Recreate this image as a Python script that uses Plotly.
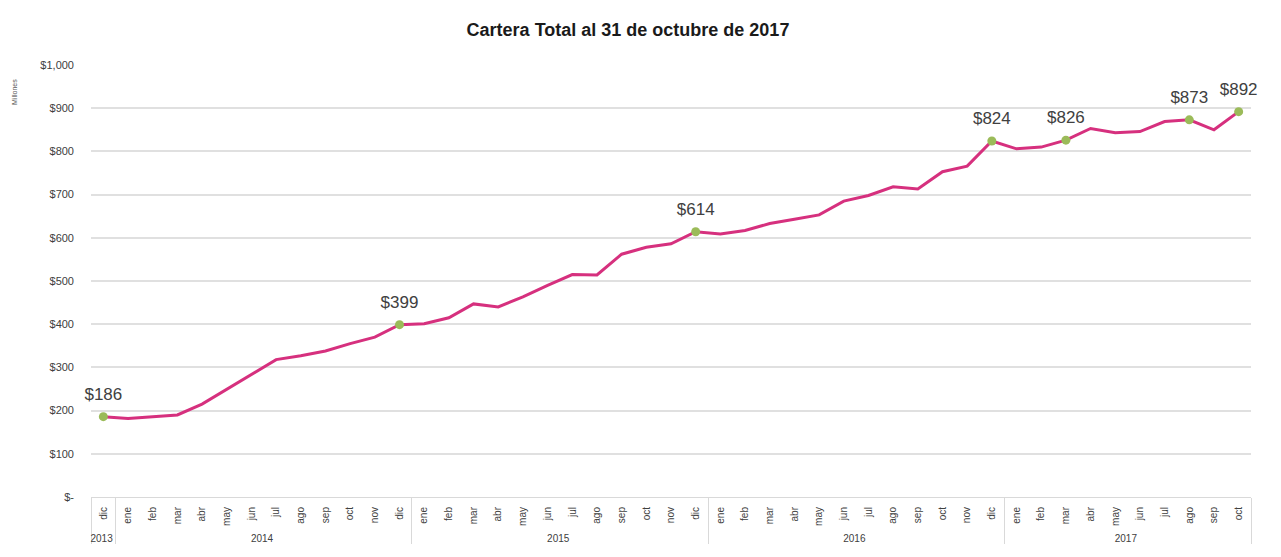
import plotly.graph_objects as go

# Monthly portfolio balance (millions), Dec 2013 - Oct 2017
years = ["2013"] + ["2014"] * 12 + ["2015"] * 12 + ["2016"] * 12 + ["2017"] * 10
month_names = ["ene", "feb", "mar", "abr", "may", "jun", "jul", "ago", "sep", "oct", "nov", "dic"]
# The lone 2013 month carries a zero-width space so that the inner category
# order stays ene..dic inside every later year group.
months = ["dic\u200b"] + month_names * 3 + month_names[:10]

cartera = [
    186,
    182, 186, 190, 215, 250, 285, 318, 327, 338, 355, 370, 399,
    401, 415, 447, 440, 463, 490, 515, 514, 562, 578, 586, 614,
    609, 617, 633, 643, 653, 685, 698, 718, 713, 753, 766, 824,
    806, 810, 826, 853, 843, 846, 869, 873, 850, 892,
]

# Points that carry a marker and a value label
highlight = [0, 12, 24, 36, 39, 44, 46]

y_ticks = list(range(0, 1001, 100))
y_ticktext = ["$-"] + [f"${v:,}" for v in y_ticks[1:]]

line_color = "#d6307e"
marker_color = "#9bbb59"

hx = [[years[i] for i in highlight], [months[i] for i in highlight]]
hy = [cartera[i] for i in highlight]

fig = go.Figure()
fig.add_trace(go.Scatter(
    x=[years, months],
    y=cartera,
    mode="lines",
    line=dict(color=line_color, width=3),
    hoverinfo="skip",
    showlegend=False,
))
fig.add_trace(go.Scatter(
    x=hx,
    y=hy,
    mode="markers",
    marker=dict(color=marker_color, size=9),
    hoverinfo="skip",
    showlegend=False,
))
# Value labels; the transparent marker sets the gap above each point
fig.add_trace(go.Scatter(
    x=hx,
    y=hy,
    mode="markers+text",
    marker=dict(color="rgba(0,0,0,0)", size=19),
    text=[f"${v:,}" for v in hy],
    textposition="top center",
    textfont=dict(family="Arial", size=17, color="#404040"),
    cliponaxis=False,
    hoverinfo="skip",
    showlegend=False,
))

fig.update_layout(
    width=1281,
    height=557,
    margin=dict(l=91, r=30, t=65, b=60),
    paper_bgcolor="white",
    plot_bgcolor="white",
    font=dict(family="Arial", color="#595959"),
    title=dict(
        text="<b>Cartera Total al 31 de octubre de 2017</b>",
        x=628 / 1281,
        xref="container",
        xanchor="center",
        y=1 - 30 / 557,
        yanchor="middle",
        font=dict(family="Arial", size=18, color="#1a1a1a"),
    ),
    xaxis=dict(
        type="multicategory",
        range=[-0.5, len(cartera) - 0.5],
        tickangle=-90,
        tickfont=dict(size=10, color="#404040"),
        ticklabelstandoff=5,
        showgrid=False,
        showline=True,
        linecolor="#d9d9d9",
        linewidth=1,
        ticks="",
        showdividers=True,
        dividercolor="#d9d9d9",
        dividerwidth=1,
    ),
    yaxis=dict(
        range=[0, 1000],
        tickvals=y_ticks,
        ticktext=y_ticktext,
        tickfont=dict(size=11, color="#404040"),
        showgrid=True,
        gridcolor="#e0e0e0",
        gridwidth=1.5,
        zeroline=False,
        ticks="",
        ticklabelstandoff=16,
    ),
    annotations=[
        dict(
            text="Millones",
            xref="paper",
            yref="paper",
            x=-77 / 1160,
            y=(497 - 92) / 432,
            xanchor="center",
            yanchor="middle",
            textangle=-90,
            showarrow=False,
            font=dict(size=7, color="#595959"),
        )
    ],
)

fig.write_html("out.html")
